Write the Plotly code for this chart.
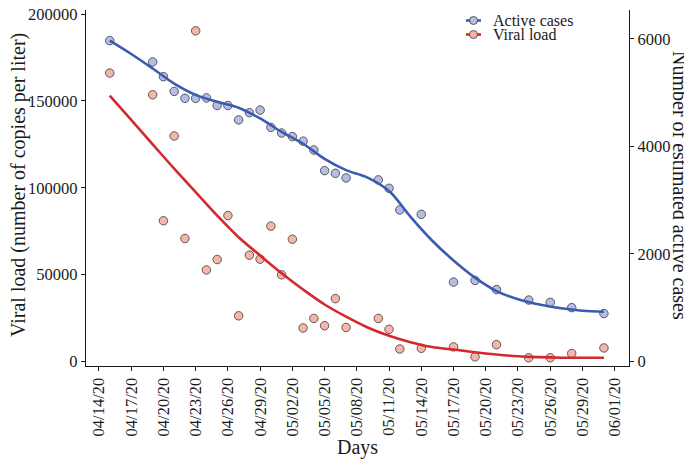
import plotly.graph_objects as go

# sampled dates (2020)
dates = ["2020-04-15", "2020-04-19", "2020-04-20", "2020-04-21", "2020-04-22", "2020-04-23",
         "2020-04-24", "2020-04-25", "2020-04-26", "2020-04-27", "2020-04-28", "2020-04-29",
         "2020-04-30", "2020-05-01", "2020-05-02", "2020-05-03", "2020-05-04", "2020-05-05",
         "2020-05-06", "2020-05-07", "2020-05-10", "2020-05-11", "2020-05-12", "2020-05-14",
         "2020-05-17", "2020-05-19", "2020-05-21", "2020-05-24", "2020-05-26", "2020-05-28",
         "2020-05-31"]

viral_load = [166000, 153500, 81000, 129800, 70800, 190300, 52700, 58700, 84000, 26300,
              61200, 58900, 77900, 49900, 70400, 19300, 24800, 20600, 36200, 19600,
              24800, 18500, 7200, 7600, 8400, 2700, 9700, 2150, 2150, 4600, 7800]

active_cases = [5968, 5572, 5298, 5023, 4895, 4895, 4903, 4762, 4762, 4493, 4628, 4676,
                4354, 4250, 4183, 4098, 3934, 3550, 3500, 3415, 3378, 3221, 2819, 2738,
                1477, 1508, 1338, 1143, 1100, 1002, 892]

# smoothed trend lines, every two days
fit_dates = ["2020-04-15", "2020-04-17", "2020-04-19", "2020-04-21", "2020-04-23", "2020-04-25",
             "2020-04-27", "2020-04-29", "2020-05-01", "2020-05-03", "2020-05-05", "2020-05-07",
             "2020-05-09", "2020-05-11", "2020-05-13", "2020-05-15", "2020-05-17", "2020-05-19",
             "2020-05-21", "2020-05-23", "2020-05-25", "2020-05-27", "2020-05-29", "2020-05-31"]
viral_fit = [153000, 139000, 125000, 111000, 97500, 84000, 71500, 61000, 50800, 41400,
             32800, 25800, 19600, 14800, 11100, 8300, 6900, 5300, 4000, 3000,
             2500, 2200, 2150, 2150]
active_fit = [5968, 5720, 5450, 5170, 4960, 4830, 4720, 4520, 4270, 4050, 3770, 3560,
              3420, 3170, 2690, 2250, 1880, 1560, 1310, 1160, 1060, 990, 945, 925]

legend_labels = ["Active cases", "Viral load"]

BLUE = "#3b5bb0"
RED = "#d4282e"
BLUE_FILL = "#b4bde3"
RED_FILL = "#f4b6a8"
FONT = "Liberation Serif"
INK = "#1a1a1a"

# the page body adds an 8px offset, so the figure is 8px smaller and everything is shifted
OFF = 8
W, H = 692 - OFF, 460 - OFF
L, R, T, B = 78, 63, 2, 94
PW, PH = W - L - R, H - T - B


def px_x(sx):
    return (sx - OFF - L) / PW


def px_y(sy):
    return (T + PH - (sy - OFF)) / PH


fig = go.Figure()

pt_line = dict(color="#3a3a3a", width=0.8)

fig.add_trace(go.Scatter(x=dates, y=viral_load, mode="markers", yaxis="y", name="Viral load",
                         marker=dict(size=8.5, color=RED_FILL, line=pt_line)))
fig.add_trace(go.Scatter(x=dates, y=active_cases, mode="markers", yaxis="y2", name="Active cases",
                         marker=dict(size=8.5, color=BLUE_FILL, line=pt_line)))
fig.add_trace(go.Scatter(x=fit_dates, y=viral_fit, mode="lines", yaxis="y",
                         line=dict(color=RED, width=2.6, shape="spline")))
fig.add_trace(go.Scatter(x=fit_dates, y=active_fit, mode="lines", yaxis="y2",
                         line=dict(color=BLUE, width=2.6, shape="spline")))

# hand-made legend (ggplot-style compact keys)
shapes, annotations = [], []
for label, row_y, lc, fc in zip(legend_labels, [20.5, 34.5], [BLUE, RED], [BLUE_FILL, RED_FILL]):
    shapes.append(dict(type="line", xref="paper", yref="paper", layer="above",
                       x0=px_x(466), x1=px_x(481), y0=px_y(row_y), y1=px_y(row_y),
                       line=dict(color=lc, width=2.6)))
    shapes.append(dict(type="circle", xref="paper", yref="paper", layer="above",
                       x0=px_x(469.5), x1=px_x(477.5), y0=px_y(row_y + 4), y1=px_y(row_y - 4),
                       fillcolor=fc, line=pt_line))
    annotations.append(dict(text=label, x=px_x(491), xref="paper", y=px_y(row_y), yref="paper",
                            xanchor="left", yanchor="middle", showarrow=False,
                            font=dict(family=FONT, size=16, color=INK)))

annotations += [
    dict(text="Days", x=px_x(357), xref="paper", y=px_y(447), yref="paper",
         xanchor="center", yanchor="middle",
         showarrow=False, font=dict(family=FONT, size=20, color=INK)),
    dict(text="Viral load (number of copies per liter)", textangle=-90,
         x=px_x(18), xref="paper", y=px_y(185), yref="paper",
         xanchor="center", yanchor="middle",
         showarrow=False, font=dict(family=FONT, size=20, color=INK)),
    dict(text="Number of estimated active cases", textangle=90,
         x=px_x(680), xref="paper", y=px_y(185), yref="paper",
         xanchor="center", yanchor="middle",
         showarrow=False, font=dict(family=FONT, size=20, color=INK)),
]

axis_common = dict(showgrid=False, zeroline=False, showline=True, linecolor=INK,
                   linewidth=1.3, ticks="outside", ticklen=4, tickwidth=1.1,
                   tickcolor=INK, automargin=False, ticklabeloverflow="allow",
                   tickfont=dict(family=FONT, size=16.5, color=INK))

fig.update_layout(
    width=W, height=H,
    paper_bgcolor="white", plot_bgcolor="white",
    margin=dict(l=L, r=R, t=T, b=B),
    showlegend=False,
    font=dict(family=FONT, size=16, color=INK),
    xaxis=dict(axis_common, type="date", range=["2020-04-12 19:00", "2020-06-02 08:00"],
               tick0="2020-04-14", dtick=3 * 86400000, tickformat="%m/%d/%y", tickangle=-90),
    yaxis=dict(axis_common, range=[-2590, 202300], tickvals=[0, 50000, 100000, 150000, 200000],
               tickformat="d"),
    yaxis2=dict(axis_common, range=[-83.7, 6538], tickvals=[0, 2000, 4000, 6000], tickformat="d",
                overlaying="y", side="right"),
    shapes=shapes,
    annotations=annotations,
)

fig.write_html("out.html")
